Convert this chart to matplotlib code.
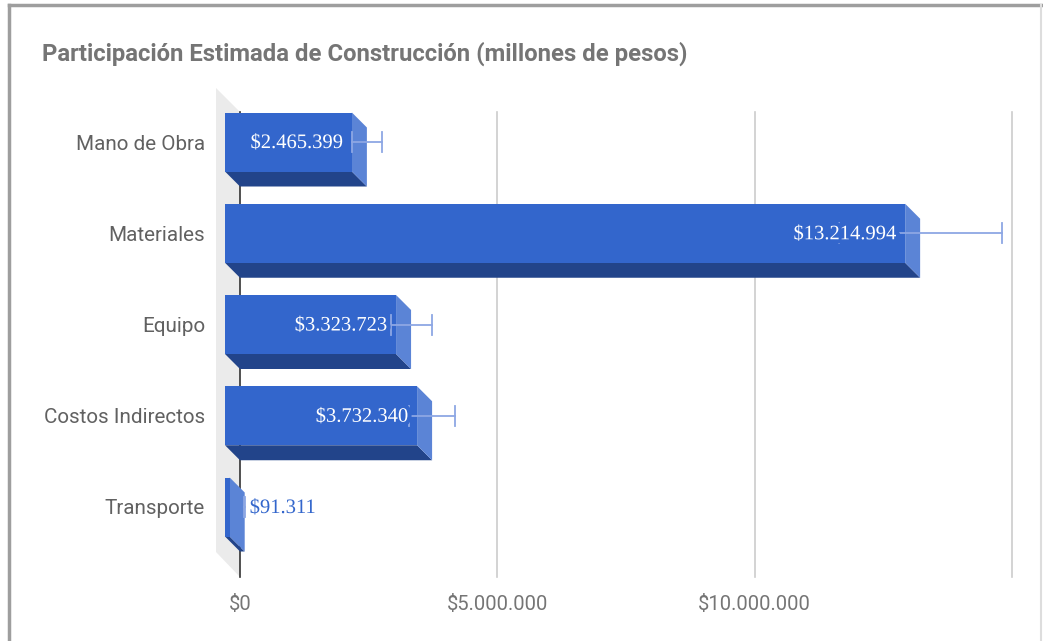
import numpy as np
import matplotlib.pyplot as plt
from matplotlib.patches import Polygon, Rectangle
from matplotlib.lines import Line2D
import matplotlib.patheffects as pe

categories = ["Mano de Obra", "Materiales", "Equipo", "Costos Indirectos", "Transporte"]
values = [2465399, 13214994, 3323723, 3732340, 91311]
err_pct = 0.12
tick_values = [0, 5000000, 10000000]
tick_labels = ["$0", "$5.000.000", "$10.000.000"]
title = "Participación Estimada de Construcción (millones de pesos)"

W, H = 1043, 641
fig = plt.figure(figsize=(W / 100, H / 100), dpi=100)

# axes: x from pixel 240 (0) to 1012 (15M), y from pixel 88 to 577
x0_px, x1_px = 240, 1012
y0_px, y1_px = 88, 577
ax = fig.add_axes([x0_px / W, 1 - y1_px / H, (x1_px - x0_px) / W, (y1_px - y0_px) / H])
xmax = 15000000
ppu = 91.25  # pixels per category
c0 = 142
ax.set_xlim(0, xmax)
ax.set_ylim((y1_px - c0) / ppu, (y0_px - c0) / ppu)
ax.axis('off')

xpp = xmax / (x1_px - x0_px)  # value units per pixel
dx = 15 * xpp
dy = 15 / ppu
h = 59 / ppu
y_top = (112 - c0) / ppu
y_bot = (577 - c0) / ppu

blue = '#3366cc'
side = '#5b84d6'
dark = '#22448a'
errc = '#8da7e4'

# left wall
wall = Polygon([(-24 * xpp, (y0_px - c0) / ppu), (0, y_top), (0, y_bot),
                (-24 * xpp, (552 - c0) / ppu)], closed=True, fc='#ebebeb', ec='none',
               clip_on=False, zorder=0)
ax.add_patch(wall)

# gridlines and axis line
for gx in [5000000, 10000000, 15000000]:
    ax.plot([gx, gx], [y_top, y_bot], color='#cccccc', lw=1.2, zorder=1, clip_on=False)
ax.plot([0, 0], [y_top, y_bot], color='#333333', lw=1.2, zorder=1.5, clip_on=False)

for i, v in enumerate(values):
    top = i - h / 2
    bot = i + h / 2
    bottom_face = Polygon([(-dx, bot), (v - dx, bot), (v, bot + dy), (0, bot + dy)],
                          closed=True, fc=dark, ec='none', clip_on=False, zorder=2)
    right_face = Polygon([(v - dx, top), (v, top + dy), (v, bot + dy), (v - dx, bot)],
                         closed=True, fc=side, ec='none', clip_on=False, zorder=2)
    front = Rectangle((-dx, top), v, h, fc=blue, ec='none', clip_on=False, zorder=2.5)
    ax.add_patch(bottom_face)
    ax.add_patch(right_face)
    ax.add_patch(front)

    # error bars
    lo, hi = v * (1 - err_pct), v * (1 + err_pct)
    cap = 10 / ppu
    ax.plot([lo, hi], [i, i], color=errc, lw=1.3, zorder=3, clip_on=False)
    ax.plot([lo, lo], [i - cap, i + cap], color=errc, lw=1.3, zorder=3, clip_on=False)
    ax.plot([hi, hi], [i - cap, i + cap], color=errc, lw=1.3, zorder=3, clip_on=False)

    label = "$" + f"{v:,}".replace(",", ".")
    ly = i + 1.5 / ppu
    if v / xpp > 60:
        ax.text(v - dx - 9 * xpp, ly, label, ha='right', va='center', color='white',
                family='Liberation Serif', fontsize=14.8, zorder=4,
                path_effects=[pe.withStroke(linewidth=6, foreground=blue)])
    else:
        ax.text(v + 5 * xpp, ly, label, ha='left', va='center', color=blue,
                family='Liberation Serif', fontsize=14.8, zorder=4,
                path_effects=[pe.withStroke(linewidth=4, foreground='white')])

    ax.text(-35 * xpp, i + 2 / ppu, categories[i], ha='right', va='center', color='#616161',
            family='Roboto', fontsize=14.9, clip_on=False)

for tv, tl in zip(tick_values, tick_labels):
    ax.text(tv, (604 - c0) / ppu, tl, ha='center', va='center', color='#757575',
            family='Roboto', fontsize=14.5, clip_on=False)

fig.text(42 / W, 1 - 53.5 / H, title, ha='left', va='center', color='#757575',
         family='Roboto', fontweight='bold', fontsize=17.2)

# outer border
fig.add_artist(Line2D([9 / W, 9 / W], [0, 1 - 5 / H], color='#9e9e9e', lw=2.5))
fig.add_artist(Line2D([9 / W, 1041 / W], [1 - 5 / H, 1 - 5 / H], color='#9e9e9e', lw=2.5))
fig.add_artist(Line2D([1041 / W, 1041 / W], [0, 1 - 5 / H], color='#dddddd', lw=1.5))

fig.savefig("out.png", dpi=100)
